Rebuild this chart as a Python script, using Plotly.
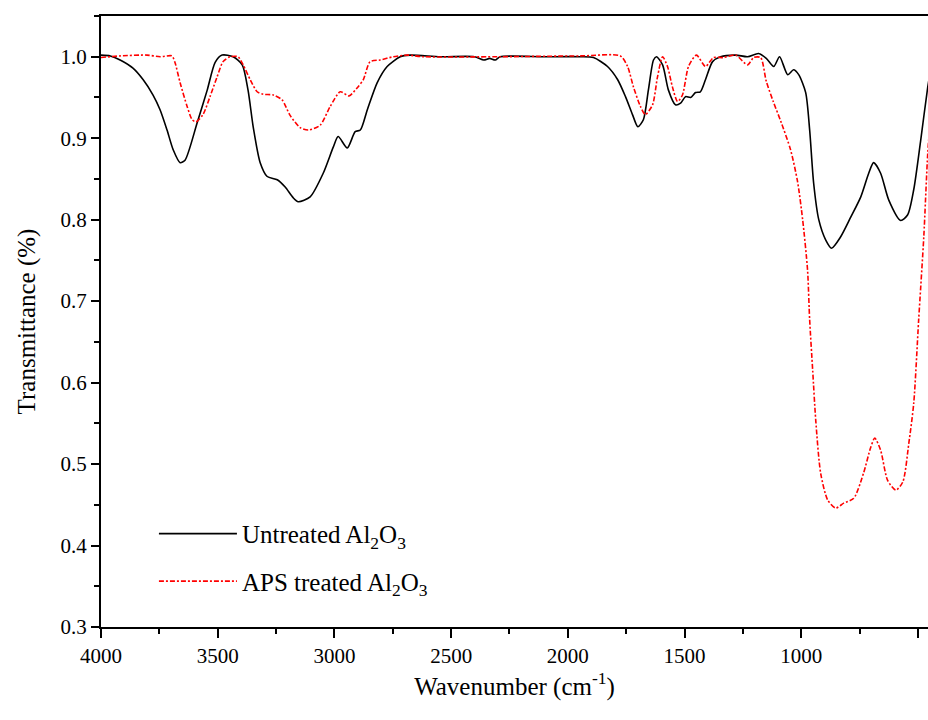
import plotly.graph_objects as go

# Untreated Al2O3
wn_untreated = [4000, 3960, 3918, 3863, 3820, 3777, 3747, 3717, 3691, 3661, 3640, 3588, 3545, 3511,
                3481, 3434, 3395, 3370, 3348, 3318, 3288, 3245, 3211, 3177, 3155, 3104, 3048, 3005,
                2984, 2945, 2911, 2889, 2859, 2817, 2774, 2718, 2675, 2546, 2400, 2360, 2335, 2311,
                2290, 2100, 1946, 1890, 1830, 1787, 1753, 1723, 1700, 1676, 1655, 1633, 1620, 1594,
                1569, 1539, 1517, 1496, 1474, 1453, 1432, 1410, 1380, 1346, 1281, 1230, 1183, 1150,
                1118, 1093, 1058, 1033, 1011, 981, 964, 947, 925, 895, 870, 831, 788, 745, 711, 690,
                660, 625, 574, 544, 518, 488, 458, 445]
t_untreated = [1.002, 1.001, 0.996, 0.986, 0.972, 0.953, 0.935, 0.910, 0.886, 0.870, 0.873, 0.919, 0.959, 0.993,
               1.002, 1.000, 0.990, 0.959, 0.914, 0.870, 0.853, 0.849, 0.840, 0.827, 0.822, 0.828, 0.857, 0.889,
               0.902, 0.888, 0.908, 0.910, 0.935, 0.968, 0.988, 1.000, 1.002, 1.000, 1.000, 0.996, 0.998, 0.996,
               1.000, 1.000, 1.000, 0.999, 0.988, 0.972, 0.951, 0.929, 0.914, 0.923, 0.959, 0.996, 1.000, 0.990,
               0.959, 0.941, 0.943, 0.951, 0.950, 0.956, 0.957, 0.972, 0.994, 1.000, 1.002, 1.000, 1.004, 0.998,
               0.988, 1.000, 0.978, 0.984, 0.978, 0.956, 0.910, 0.845, 0.800, 0.775, 0.765, 0.779, 0.803, 0.828, 0.857, 0.870,
               0.857, 0.824, 0.799, 0.806, 0.837, 0.898, 0.963, 0.985]

# APS treated Al2O3
wn_aps = [4000, 3918, 3803, 3747, 3696, 3683, 3661, 3631, 3610, 3593, 3563, 3533, 3503, 3477, 3447,
          3413, 3391, 3361, 3331, 3305, 3262, 3224, 3190, 3147, 3112, 3061, 3018, 2975, 2937, 2902,
          2876, 2847, 2804, 2748, 2688, 2619, 2300, 1946, 1775, 1744, 1719, 1689, 1668, 1637, 1616,
          1594, 1573, 1552, 1530, 1509, 1483, 1449, 1410, 1376, 1333, 1281, 1230, 1204, 1174, 1150,
          1120, 1088, 1046, 1016, 994, 973, 964, 951, 938, 917, 887, 853, 818, 775, 733, 703, 685,
          660, 630, 595, 565, 539, 518, 497, 475, 458, 445]
t_aps = [0.999, 1.001, 1.002, 1.000, 1.001, 0.993, 0.968, 0.939, 0.923, 0.920, 0.929, 0.951, 0.975, 0.994, 1.000,
         1.000, 0.990, 0.972, 0.957, 0.954, 0.953, 0.947, 0.928, 0.913, 0.910, 0.916, 0.939, 0.957, 0.952, 0.962,
         0.972, 0.994, 0.996, 1.000, 1.002, 1.000, 1.000, 1.001, 1.001, 0.988, 0.963, 0.939, 0.929, 0.941, 0.975,
         1.000, 0.988, 0.963, 0.945, 0.953, 0.988, 1.002, 0.988, 0.999, 0.999, 1.002, 0.990, 0.999, 0.999, 0.970,
         0.945, 0.921, 0.886, 0.847, 0.800, 0.738, 0.677, 0.615, 0.554, 0.489, 0.456, 0.446, 0.452, 0.458, 0.489, 0.520, 0.532,
         0.517, 0.480, 0.468, 0.478, 0.526, 0.575, 0.677, 0.779, 0.882, 0.930]

x_ticks = [4000, 3500, 3000, 2500, 2000, 1500, 1000, 500]
y_ticks = [0.3, 0.4, 0.5, 0.6, 0.7, 0.8, 0.9, 1.0]

FONT = "Liberation Serif"

fig = go.Figure()
fig.add_trace(go.Scatter(
    x=wn_untreated, y=t_untreated, mode="lines",
    name="Untreated Al<sub>2</sub>O<sub>3</sub>", legendgroup="a",
    line=dict(color="black", width=1.6, shape="spline", smoothing=0.7),
))
fig.add_trace(go.Scatter(
    x=wn_aps, y=t_aps, mode="lines",
    name="APS treated Al<sub>2</sub>O<sub>3</sub>", legendgroup="b",
    line=dict(color="#ff0000", width=1.6, dash="5px,2px,2px,2px", shape="spline", smoothing=0.7),
))

fig.update_layout(
    width=928, height=720,
    margin=dict(l=101, r=0, t=16, b=93),
    paper_bgcolor="white", plot_bgcolor="white",
    font=dict(family=FONT, size=21, color="black"),
    showlegend=True,
    legend=dict(
        x=0.064, y=0.19, xanchor="left", yanchor="top",
        bgcolor="rgba(0,0,0,0)",
        font=dict(family=FONT, size=25, color="black"),
        itemwidth=78, tracegroupgap=12,
    ),
    xaxis=dict(
        range=[4000, 457], autorange=False,
        tickmode="array", tickvals=x_ticks, ticktext=[str(v) for v in x_ticks],
        ticks="outside", ticklen=9, tickwidth=2, tickcolor="black",
        minor=dict(dtick=250, ticks="outside", ticklen=5, tickwidth=2, tickcolor="black"),
        showline=True, linecolor="black", linewidth=2, mirror=True,
        showgrid=False, zeroline=False,
        tickfont=dict(family=FONT, size=21, color="black"),
        title=dict(text="Wavenumber (cm<sup>-1</sup>)", font=dict(family=FONT, size=25, color="black"), standoff=0),
    ),
    yaxis=dict(
        range=[0.3, 1.05], autorange=False,
        tickmode="array", tickvals=y_ticks, ticktext=[f"{v:.1f}" for v in y_ticks],
        ticks="outside", ticklen=8, tickwidth=2, tickcolor="black",
        minor=dict(dtick=0.05, tick0=0.3, ticks="outside", ticklen=5, tickwidth=2, tickcolor="black"),
        showline=True, linecolor="black", linewidth=2, mirror=False,
        showgrid=False, zeroline=False,
        tickfont=dict(family=FONT, size=21, color="black"),
        title=dict(text="Transmittance (%)", font=dict(family=FONT, size=25, color="black"), standoff=18),
    ),
)

fig.write_html(
    "out.html",
    config={"displayModeBar": False},
    post_script="document.body.style.margin='0';document.body.style.overflow='hidden';",
)
